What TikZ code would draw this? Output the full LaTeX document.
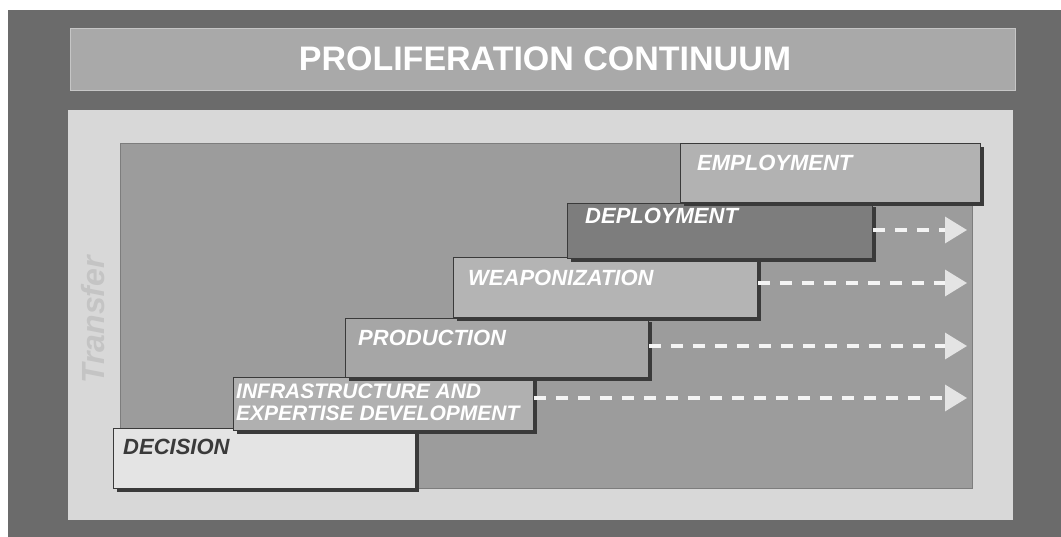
\documentclass[tikz,border=0pt]{standalone}
\usepackage{fontspec}
\setmainfont{Liberation Sans}
\usetikzlibrary{arrows.meta,shadows}
\definecolor{framec}{HTML}{6B6B6B}
\definecolor{titlec}{HTML}{A9A9A9}
\definecolor{titleb}{HTML}{C6C6C6}
\definecolor{panelc}{HTML}{D8D8D8}
\definecolor{chartc}{HTML}{9C9C9C}
\definecolor{empc}{HTML}{B2B2B2}
\definecolor{depc}{HTML}{7D7D7D}
\definecolor{weapc}{HTML}{B4B4B4}
\definecolor{prodc}{HTML}{A6A6A6}
\definecolor{infc}{HTML}{B0B0B0}
\definecolor{decc}{HTML}{E4E4E4}
\definecolor{shadc}{HTML}{3A3A3A}
\definecolor{headc}{HTML}{E4E4E4}
\definecolor{transc}{HTML}{C4C4C4}
\definecolor{dashc}{HTML}{F4F4F4}
\tikzset{
  stagebox/.style={draw=shadc, line width=0.8pt, anchor=north west, inner sep=0pt,
    general shadow={fill=shadc, shadow xshift=4pt, shadow yshift=-4pt}},
  stagelbl/.style={anchor=west, inner sep=0pt, text=white, font=\fontsize{22}{22}\selectfont\bfseries\itshape},
  flow/.style={dashc, line width=3.5pt, dash pattern=on 12pt off 10pt,
    -{Triangle[length=22pt,width=26pt,color=headc,fill=headc]}},
}
\begin{document}
\begin{tikzpicture}[x=1pt,y=-1pt]
\useasboundingbox (0,0) rectangle (1061,537);
\fill[white] (0,0) rectangle (1061,537);
% frame
\fill[framec] (8,10) rectangle (1061,537);
% title bar
\node[draw=titleb, fill=titlec, line width=1pt, anchor=north west, minimum width=945pt, minimum height=62pt, inner sep=0pt] (title) at (70,28) {};
\node[text=white, font=\fontsize{34}{34}\selectfont\bfseries, inner sep=0pt] (titletext) at (545,59) {PROLIFERATION CONTINUUM};
% light panel
\node[fill=panelc, anchor=north west, minimum width=945pt, minimum height=410pt, inner sep=0pt] (panel) at (68,110) {};
% chart area
\node[fill=chartc, draw=chartc!80!black, line width=0.6pt, anchor=north west, minimum width=852pt, minimum height=345pt, inner sep=0pt] (chart) at (120,143) {};
% Transfer
\node[rotate=90, text=transc, font=\fontsize{32}{32}\selectfont\bfseries\itshape, inner sep=0pt] (transfer) at (93,320) {Transfer};
% stages (bottom first)
\node[stagebox, fill=decc, minimum width=302pt, minimum height=60pt] (dec) at (113,428) {};
\node[stagebox, fill=infc, minimum width=300pt, minimum height=53pt] (inf) at (233,377) {};
\node[stagebox, fill=prodc, minimum width=303pt, minimum height=59pt] (prod) at (345,318) {};
\node[stagebox, fill=weapc, minimum width=304pt, minimum height=60pt] (weap) at (453,257) {};
\node[stagebox, fill=depc, minimum width=305pt, minimum height=55pt] (dep) at (567,203) {};
\node[stagebox, fill=empc, minimum width=300pt, minimum height=59pt] (emp) at (680,143) {};
% labels
\node[stagelbl, text=shadc] (decT) at ([xshift=10pt,yshift=-19pt]dec.north west) {DECISION};
\node[stagelbl, align=left, font=\fontsize{21}{22}\selectfont\bfseries\itshape] (infT) at ([xshift=3pt,yshift=-25pt]inf.north west) {INFRASTRUCTURE AND\\EXPERTISE DEVELOPMENT};
\node[stagelbl] (prodT) at ([xshift=13pt,yshift=-20pt]prod.north west) {PRODUCTION};
\node[stagelbl] (weapT) at ([xshift=15pt,yshift=-21pt]weap.north west) {WEAPONIZATION};
\node[stagelbl] (depT) at ([xshift=18pt,yshift=-13pt]dep.north west) {DEPLOYMENT};
\node[stagelbl] (empT) at ([xshift=17pt,yshift=-20pt]emp.north west) {EMPLOYMENT};
% arrow ends
\coordinate (e1) at (967,230);
\coordinate (e2) at (967,283);
\coordinate (e3) at (967,346);
\coordinate (e4) at (967,398);
\draw[flow] (dep.east |- e1) -- (e1);
\draw[flow] (weap.east |- e2) -- (e2);
\draw[flow] (prod.east |- e3) -- (e3);
\draw[flow] (inf.east |- e4) -- (e4);
\end{tikzpicture}
\end{document}
